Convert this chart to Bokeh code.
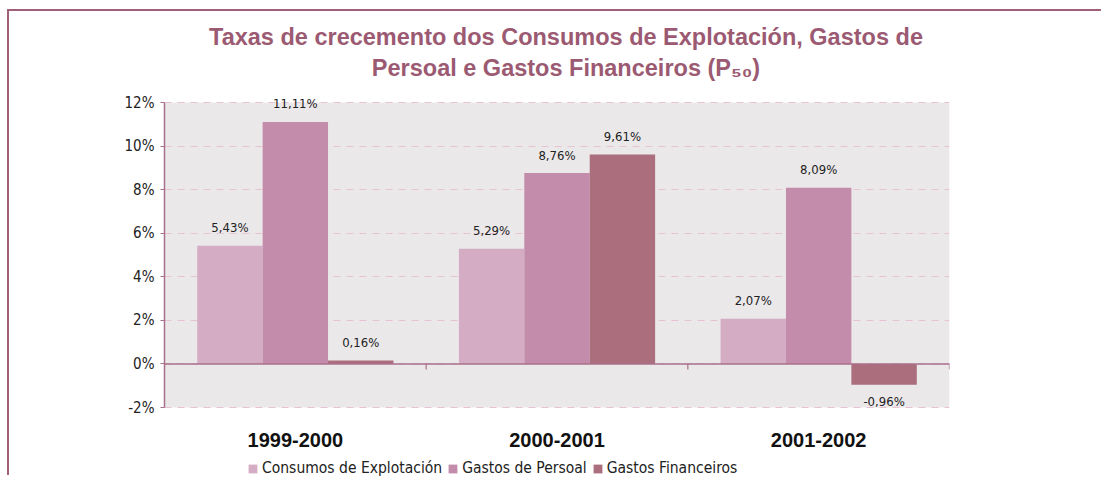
from bokeh.plotting import figure
from bokeh.models import ColumnDataSource, Legend, LegendItem, FixedTicker
from bokeh.core.properties import value
from bokeh.embed import file_html
from bokeh.resources import INLINE

periods = ["1999-2000", "2000-2001", "2001-2002"]
series = ["Consumos de Explotación", "Gastos de Persoal", "Gastos Financeiros"]
consumos = [5.43, 5.29, 2.07]
persoal = [11.11, 8.76, 8.09]
financeiros = [0.16, 9.61, -0.96]
colors = ["#D4ADC5", "#C48CAB", "#AA6E7D"]
y_ticks = [-2, 0, 2, 4, 6, 8, 10, 12]
y_tick_labels = ["-2%", "0%", "2%", "4%", "6%", "8%", "10%", "12%"]
title_lines = ["Taxas de crecemento dos Consumos de Explotación, Gastos de",
               "Persoal e Gastos Financeiros (P₅₀)"]

NARROW = "'Liberation Sans Narrow', 'DejaVu Sans Condensed', 'Arial Narrow', sans-serif"
ARIAL = "'Liberation Sans', Arial, sans-serif"
MAROON = "#A8708A"

# layout (pixels)
W, H = 1094, 466
BORDER_L, BORDER_R = 155, 154
PLOT_TOP, PLOT_H = 91, 305          # plot area top offset and height inside the canvas
y_lo, y_hi = y_ticks[0], y_ticks[-1]
px = PLOT_H / (y_hi - y_lo)
y_start = y_lo - (H - PLOT_TOP - PLOT_H) / px
y_end = y_hi + PLOT_TOP / px

n = len(periods)
p = figure(width=W, height=H, x_range=(0, n), y_range=(y_start, y_end),
           output_backend="svg", toolbar_location=None,
           min_border_left=BORDER_L, min_border_right=BORDER_R, min_border_top=0, min_border_bottom=0)
p.styles = {"border-left": "2px solid #A0607A", "border-top": "2px solid #A0607A",
            "margin-left": "7px", "margin-top": "9px"}
p.background_fill_color = "white"
p.border_fill_color = "white"
p.outline_line_color = None
p.xaxis.visible = False

# grey plot area
p.quad(left=0, right=n, bottom=y_lo, top=y_hi, fill_color="#EBE8EA", line_color=None, level="image")

p.xgrid.grid_line_color = None
p.ygrid.grid_line_color = "#E6C2D4"
p.ygrid.grid_line_dash = "7 6"
p.ygrid.grid_line_width = 1
p.ygrid.ticker = FixedTicker(ticks=y_ticks)

p.yaxis.ticker = FixedTicker(ticks=y_ticks)
p.yaxis.bounds = (y_lo, y_hi)
p.yaxis.major_label_overrides = {t: l for t, l in zip(y_ticks, y_tick_labels)}
p.yaxis.axis_line_color = MAROON
p.yaxis.axis_line_width = 1.5
p.yaxis.major_tick_line_color = MAROON
p.yaxis.major_tick_in = 0
p.yaxis.major_tick_out = 4
p.yaxis.minor_tick_line_color = None
p.yaxis.major_label_text_font = NARROW
p.yaxis.major_label_text_font_size = "15px"
p.yaxis.major_label_text_color = "#222222"
p.yaxis.major_label_standoff = 6

centers = [i + 0.5 for i in range(n)]
# category labels below the plot area
p.text(x=centers, y=[y_lo] * n, text=periods, y_offset=32,
       text_align="center", text_baseline="middle", text_font=value(ARIAL),
       text_font_style="bold", text_font_size="20px", text_color="#111111")

bar_w = 0.25
renderers = []
for k, (vals, col) in enumerate(zip([consumos, persoal, financeiros], colors)):
    xs = [c + (k - 1) * bar_w for c in centers]
    labels = [("%.2f%%" % v).replace(".", ",") for v in vals]
    src = ColumnDataSource(dict(x=xs, top=vals, label=labels,
                                off=[-18 if v >= 0 else 17 for v in vals]))
    r = p.vbar(x="x", top="top", bottom=0, width=bar_w, source=src,
               fill_color=col, line_color=None)
    renderers.append(r)
    p.text(x="x", y="top", text="label", y_offset="off", source=src,
           text_align="center", text_baseline="middle",
           text_font=value(NARROW), text_font_size="13px", text_color="#222222")

# zero line (category axis) and its ticks at category boundaries
p.segment(x0=[0], y0=[0], x1=[n], y1=[0], line_color=MAROON, line_width=1.5)
bounds = list(range(n + 1))
p.segment(x0=bounds, y0=[0] * len(bounds), x1=bounds, y1=[-0.25] * len(bounds),
          line_color=MAROON, line_width=1.2)

# title (two centred lines)
p.text(x=[n / 2] * 2, y=[y_hi] * 2, text=title_lines, x_offset=9, y_offset=[-66, -35],
       text_align="center", text_baseline="alphabetic", text_font=value(ARIAL),
       text_font_style="bold", text_font_size="23.5px", text_color="#9B5A72")

legend = Legend(items=[LegendItem(label=s, renderers=[r]) for s, r in zip(series, renderers)],
                orientation="horizontal", location=(83, 0))
legend.border_line_color = None
legend.background_fill_alpha = 0
legend.glyph_width = 11
legend.glyph_height = 11
legend.label_text_font = NARROW
legend.label_text_font_size = "15.5px"
legend.label_text_color = "#222222"
legend.label_standoff = 4
legend.spacing = 5
legend.padding = 0
legend.margin = 0
p.add_layout(legend)

open("out.html", "w").write(file_html(p, INLINE))
